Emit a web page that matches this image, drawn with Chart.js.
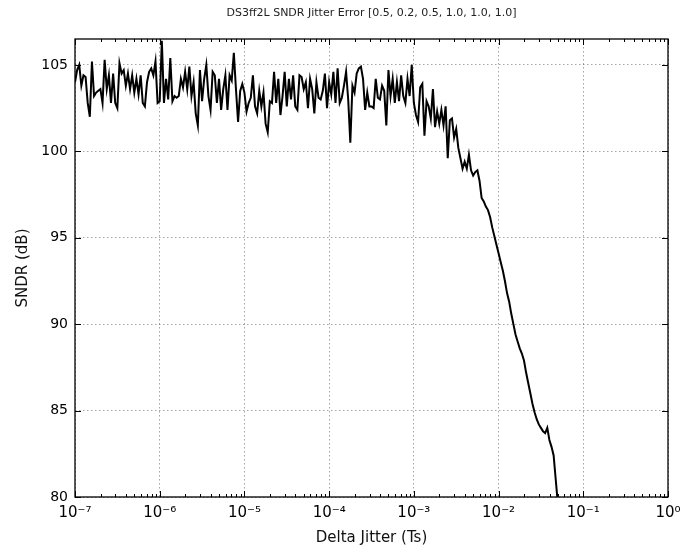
<!DOCTYPE html>
<html lang="en">
<head>
    <meta charset="UTF-8">
    <title>DS3ff2L SNDR Jitter Error</title>
    <script src="https://cdn.jsdelivr.net/npm/chart.js"></script>
    <style>
        body {
            margin: 0;
            padding: 0;
            background-color: #fff;
        }

        .plot {
            width: 688px;
            height: 551px;
        }
    </style>
</head>
<body>
    <div class="plot">
        <canvas id="jitterChart" width="688" height="551"></canvas>
    </div>

    <script>
        const chartTitle = 'DS3ff2L SNDR Jitter Error [0.5, 0.2, 0.5, 1.0, 1.0, 1.0]';

        // sweep starts at 1e-7 Ts, 40 points per decade
        const jitterStart = -7;
        const pointsPerDecade = 40;

        // SNDR in dB for each jitter step
        const sndr = [
            104.0, 104.7, 105.0, 103.8, 104.4, 104.3, 102.8, 102.0, 105.2, 103.2,
            103.4, 103.5, 103.6, 102.8, 105.3, 103.6, 104.4, 102.8, 104.5, 102.8,
            102.5, 105.1, 104.5, 104.7, 103.8, 104.5, 103.6, 104.4, 103.4, 104.2,
            103.3, 104.4, 102.8, 102.6, 104.0, 104.6, 104.8, 104.4, 105.2, 102.8,
            102.9, 106.4, 102.8, 104.2, 103.0, 105.4, 102.9, 103.2, 103.1, 103.2,
            104.2, 103.7, 104.6, 103.6, 104.9, 103.2, 104.0, 102.2, 101.5, 104.7,
            102.9, 104.2, 105.0, 103.2, 102.4, 104.6, 104.4, 102.8, 104.2, 102.4,
            103.6, 104.4, 102.4, 104.4, 104.1, 105.7, 103.6, 101.7, 103.5, 103.9,
            103.4, 102.3, 102.8, 103.1, 104.4, 102.6, 102.2, 103.5, 102.6, 103.4,
            101.6, 101.1, 102.9, 102.8, 104.6, 102.8, 104.2, 102.1, 103.2, 104.6,
            102.6, 104.2, 103.0, 104.4, 102.6, 102.4, 104.4, 104.3, 103.6, 104.0,
            102.5, 104.2, 103.6, 102.2, 104.0, 103.1, 103.0, 103.5, 104.5, 102.5,
            104.0, 103.3, 104.6, 102.8, 104.8, 102.8, 103.1, 103.8, 104.6, 103.0,
            100.5, 103.8, 103.4, 104.5, 104.8, 104.9, 104.2, 102.4, 103.4, 102.6,
            102.6, 102.5, 104.2, 103.1, 103.0, 103.8, 103.5, 101.5, 104.7, 103.2,
            104.2, 102.8, 104.0, 102.9, 104.4, 103.2, 102.8, 104.2, 103.2, 105.0,
            102.8, 102.1, 101.7, 103.7, 103.9, 100.9, 102.9, 102.6, 101.9, 103.6,
            101.4, 102.3, 101.6, 102.4, 101.5, 102.6, 99.6, 101.8, 101.9, 100.8,
            101.3, 100.2, 99.6, 99.0, 99.4, 99.0, 99.8, 98.9, 98.6, 98.8,
            98.9, 98.3, 97.3, 97.1, 96.8, 96.6, 96.2, 95.6, 95.1, 94.6,
            94.1, 93.6, 93.1, 92.5, 91.8, 91.3, 90.6, 90.0, 89.4, 89.0,
            88.6, 88.3, 87.9, 87.2, 86.6, 86.0, 85.4, 84.9, 84.5, 84.2,
            84.0, 83.8, 83.7, 84.0, 83.3, 82.9, 82.4, 81.0, 79.6
        ];

        const jitterTicks = [1e-7, 1e-6, 1e-5, 1e-4, 1e-3, 1e-2, 1e-1, 1];
        const sndrTicks = [80, 85, 90, 95, 100, 105];

        const font = 'DejaVu Sans';
        const superscript = { '-': '⁻', '0': '⁰', '1': '¹', '2': '²', '3': '³', '4': '⁴', '5': '⁵', '6': '⁶', '7': '⁷', '8': '⁸', '9': '⁹' };

        function powerLabel(value) {
            const exp = Math.round(Math.log10(value)).toString();
            return '10' + exp.split('').map(c => superscript[c]).join('');
        }

        const points = sndr.map((v, i) => ({
            x: Math.pow(10, jitterStart + i / pointsPerDecade),
            y: v
        }));

        // frame, inward tick marks (log minor ticks too) and the title
        const framePlugin = {
            id: 'frame',
            afterDatasetsDraw(chart) {
                const { ctx, chartArea: a, scales: { x, y } } = chart;
                ctx.save();
                ctx.strokeStyle = '#000';
                ctx.lineWidth = 1;
                ctx.beginPath();
                jitterTicks.forEach(decade => {
                    for (let m = 1; m <= 9; m++) {
                        const v = decade * m;
                        if (v > 1) break;
                        const px = Math.round(x.getPixelForValue(v)) + 0.5;
                        const len = m === 1 ? 6 : 3;
                        ctx.moveTo(px, a.bottom);
                        ctx.lineTo(px, a.bottom - len);
                        ctx.moveTo(px, a.top);
                        ctx.lineTo(px, a.top + len);
                    }
                });
                sndrTicks.forEach(v => {
                    const py = Math.round(y.getPixelForValue(v)) + 0.5;
                    ctx.moveTo(a.left, py);
                    ctx.lineTo(a.left + 6, py);
                    ctx.moveTo(a.right, py);
                    ctx.lineTo(a.right - 6, py);
                });
                ctx.stroke();
                ctx.lineWidth = 1.3;
                ctx.strokeRect(a.left, a.top, a.right - a.left, a.bottom - a.top);

                ctx.fillStyle = '#222';
                ctx.font = '11px "' + font + '"';
                ctx.textAlign = 'center';
                ctx.textBaseline = 'middle';
                ctx.fillText(chartTitle, (a.left + a.right) / 2, 13);
                ctx.restore();
            }
        };

        const ctx = document.getElementById('jitterChart').getContext('2d');
        const jitterChart = new Chart(ctx, {
            type: 'line',
            data: {
                datasets: [{
                    data: points,
                    borderColor: '#000',
                    borderWidth: 2,
                    pointRadius: 0,
                    tension: 0,
                    fill: false
                }]
            },
            options: {
                responsive: false,
                animation: false,
                layout: {
                    padding: { top: 39, right: 20, left: 0, bottom: 0 }
                },
                plugins: {
                    legend: { display: false },
                    tooltip: { enabled: false }
                },
                scales: {
                    x: {
                        type: 'logarithmic',
                        min: 1e-7,
                        max: 1,
                        afterFit(scale) { scale.height = 54; },
                        afterBuildTicks(scale) {
                            scale.ticks = jitterTicks.map(v => ({ value: v }));
                        },
                        ticks: {
                            callback: value => powerLabel(value),
                            color: '#000',
                            font: { family: font, size: 15 },
                            padding: 7,
                            maxRotation: 0,
                            autoSkip: false
                        },
                        grid: {
                            color: 'rgba(0, 0, 0, 0.35)',
                            lineWidth: 1,
                            drawTicks: false
                        },
                        border: { display: false, dash: [1.5, 2.5] },
                        title: {
                            display: true,
                            text: 'Delta Jitter (Ts)',
                            color: '#111',
                            font: { family: font, size: 15 },
                            padding: { top: 0, bottom: 4 }
                        }
                    },
                    y: {
                        min: 80,
                        max: 106.5,
                        afterFit(scale) { scale.width = 75; },
                        afterBuildTicks(scale) {
                            scale.ticks = sndrTicks.map(v => ({ value: v }));
                        },
                        ticks: {
                            color: '#000',
                            font: { family: font, size: 14 },
                            padding: 7
                        },
                        grid: {
                            color: 'rgba(0, 0, 0, 0.35)',
                            lineWidth: 1,
                            drawTicks: false
                        },
                        border: { display: false, dash: [1.5, 2.5] },
                        title: {
                            display: true,
                            text: 'SNDR (dB)',
                            color: '#111',
                            font: { family: font, size: 15 },
                            padding: { top: 14, bottom: 0 }
                        }
                    }
                }
            },
            plugins: [framePlugin]
        });
    </script>
</body>
</html>
